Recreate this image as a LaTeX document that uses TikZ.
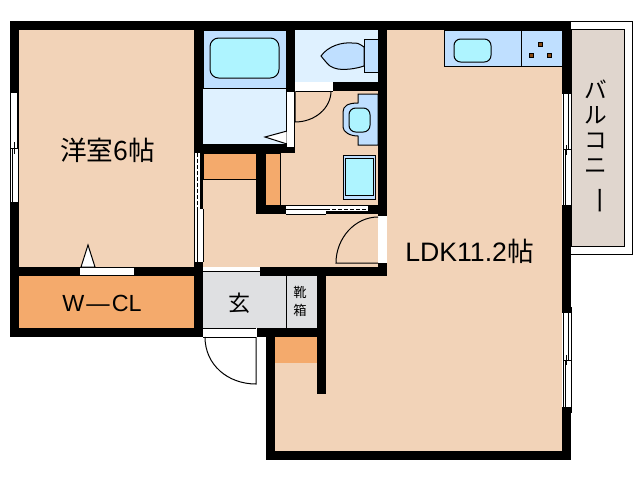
\documentclass[tikz,border=0pt]{standalone}
\usepackage{fontspec}
\setmainfont{Liberation Sans}
\newfontfamily\jpfont{Noto Sans CJK JP}
\definecolor{floorc}{HTML}{F2D3B8}
\definecolor{closetc}{HTML}{F4AA6C}
\definecolor{tubc}{HTML}{AEF4FF}
\definecolor{fixc}{HTML}{BFDFFF}
\definecolor{washc}{HTML}{DFF1FF}
\definecolor{genkanc}{HTML}{DFE0E2}
\definecolor{balc}{HTML}{E0D6CE}
\definecolor{burnc}{HTML}{8B4A12}
\tikzset{
  wall/.style={fill=black,draw=none},
  thinline/.style={draw=black,line width=.75pt},
  fix/.style={thinline,fill=fixc},
  tub/.style={thinline,fill=tubc},
  glass/.style={fill=white,draw=none},
  doorleaf/.style={thinline,fill=white},
  burner/.style={fill=burnc,draw=black,line width=.4pt},
  label/.style={inner sep=0pt,text=black}
}
\begin{document}
\begin{tikzpicture}[x=.75pt,y=-.75pt]
\useasboundingbox (0,0) rectangle (638,480);
\fill[white] (0,0) rectangle (638,480);
% balcony
\draw[thinline] (571,21) -- (632,21) -- (632,254) -- (571,254);
\draw[thinline,fill=balc] (571,29) -- (624,29) -- (624,246) -- (571,246) -- cycle;
% floors
\fill[floorc] (19,30) rectangle (194,267);
\fill[floorc] (203,153) rectangle (378,267);
\fill[floorc] (295,91) rectangle (378,205);
\fill[floorc] (387,30) rectangle (562,451);
\fill[floorc] (326,267) rectangle (387,451);
\fill[floorc] (275,337) rectangle (326,451);
% closets
\fill[closetc] (19,276) rectangle (194,328);
\draw[thinline,fill=closetc] (203,179) -- (203,153) -- (256,153) -- (256,179) -- cycle;
\draw[thinline,fill=closetc] (265,153) -- (280,153) -- (280,205) -- (265,205) -- cycle;
\fill[closetc] (275,337) rectangle (317,363);
% genkan
\fill[genkanc] (203,271) rectangle (317,328);
\draw[thinline] (203,271) -- (262,271);
\draw[thinline] (286,276) -- (286,328);
% bath
\draw[thinline,fill=fixc] (203,30) rectangle (286,88);
\fill[washc] (203,88.5) rectangle (286,144);
\draw[tub,rounded corners=6.5pt] (210,38) rectangle (279,78);
% toilet
\fill[washc] (295,30) rectangle (378,82);
\draw[thinline,fill=fixc] (364,39) rectangle (378,72);
\draw[thinline,fill=fixc] (321,56) .. controls (328,46) and (342,42) .. (352,43) .. controls (358,43) .. (364,47) -- (364,66) .. controls (355,69) and (345,70) .. (338,69) .. controls (330,67) .. (321,56) -- cycle;
% washbasin
\draw[fix] (378,94) -- (358,94) -- (358,103) .. controls (348,103) and (343,106) .. (343,112) -- (343,127) .. controls (343,132) and (350,136) .. (358,136) -- (358,145) -- (378,145) -- cycle;
\draw[tub,rounded corners=5pt] (349,108) rectangle (370,132);
% washer pan
\draw[fix] (343,155) rectangle (375,199);
\draw[tub] (345.5,158) rectangle (373,195);
% kitchen
\draw[fix] (444,30) rectangle (562,66);
\draw[thinline] (521,30) -- (521,66);
\draw[tub,rounded corners=5pt] (454,39) rectangle (491,62);
\draw[burner] (538,42) rectangle (542,46);
\draw[burner] (529,53) rectangle (533,57);
\draw[burner] (547,53) rectangle (551,57);
% walls
\fill[wall] (10,21) rectangle (571,30);
\fill[wall] (10,21) rectangle (19,93);
\fill[wall] (10,202) rectangle (19,337);
\fill[wall] (10,267) rectangle (203,276);
\fill[wall] (10,328) rectangle (203,337);
\fill[wall] (194,21) rectangle (203,153);
\fill[wall] (194,262) rectangle (203,337);
\fill[wall] (194,144) rectangle (295,153);
\fill[wall] (286,21) rectangle (295,153);
\fill[wall] (333,82) rectangle (378,91);
\fill[wall] (378,21) rectangle (387,215);
\fill[wall] (378,263) rectangle (387,276);
\fill[wall] (256,153) rectangle (265,214);
\fill[wall] (256,205) rectangle (286,214);
\fill[wall] (368,205) rectangle (378,214);
\fill[wall] (260,267) rectangle (387,276);
\fill[wall] (317,267) rectangle (326,394);
\fill[wall] (257,328) rectangle (326,337);
\fill[wall] (266,337) rectangle (275,460);
\fill[wall] (266,451) rectangle (571,460);
\fill[wall] (562,21) rectangle (571,94);
\fill[wall] (562,205) rectangle (571,313);
\fill[wall] (562,407) rectangle (571,460);
\fill[wall] (562,87) rectangle (572,94);
\fill[wall] (562,205) rectangle (572,213);
\fill[wall] (562,307) rectangle (572,313);
\fill[wall] (562,407) rectangle (572,413);
% shower door and triangle
\draw[doorleaf] (265,137) -- (287,131) -- (287,144) -- cycle;
\fill[white] (287,92) rectangle (294,147);
\fill[white] (296,83) rectangle (333,90.5);
\draw[thinline] (296,91) -- (333,91);
\draw[thinline] (295,91) -- (295,122) .. controls (315,122) and (331,108) .. (331,91);
% bedroom closet door
\fill[white] (79,268) rectangle (134,275);
\draw[doorleaf] (88,245) -- (81,267) -- (95,267) -- cycle;
\draw[thinline] (79,267) -- (79,276);
% sliding door: bedroom to hall
\fill[white] (194,153) rectangle (203,262);
\fill[black] (200,153) rectangle (203,209);
\draw[thinline] (194.5,153) -- (194.5,262);
\draw[thinline] (197.5,209) -- (197.5,262);
\draw[thinline] (203,209) -- (203,262);
\draw[thinline,dash pattern=on 3pt off 1.5pt] (197.5,153) -- (197.5,209);
% sliding door: cupboard
\fill[white] (286,205) rectangle (368,214);
\fill[black] (326,210.5) rectangle (368,214);
\draw[thinline] (286,205.5) -- (368,205.5);
\draw[thinline] (286,209) -- (326,209);
\draw[thinline] (286,214) -- (326,214);
\draw[thinline,dash pattern=on 3pt off 1.5pt] (326,209) -- (368,209);
% LDK door
\fill[white] (378,215) rectangle (387,263);
\draw[thinline] (378,215) -- (387,215);
\draw[thinline] (378,217) .. controls (355,217) and (336,238) .. (336,263) -- (378,263);
% entrance door
\fill[white] (203,329) rectangle (256,336);
\draw[thinline] (203,328) -- (256,328);
\draw[thinline] (203,337) -- (256,337);
\draw[thinline] (205,337) .. controls (205,365) and (228,384) .. (256,384) -- (256,337);
% windows
\fill[white] (10,93) rectangle (19,202);
\draw[thinline] (10.5,93) -- (10.5,202);
\draw[thinline] (18.5,93) -- (18.5,202);
\draw[thinline] (17,93) -- (17,148);
\draw[thinline] (12,148) -- (12,202);
\draw[thinline] (10,148) -- (19,148);
\draw[thinline] (14,142) -- (14,154);
\fill[white] (563,94) rectangle (572,205);
\draw[thinline] (563,94) -- (563,205);
\draw[thinline] (571.5,94) -- (571.5,205);
\draw[thinline] (568,94) -- (568,149);
\draw[thinline] (565,149) -- (565,205);
\draw[thinline] (563,149) -- (572,149);
\draw[thinline] (566.5,145) -- (566.5,155);
\fill[white] (563,313) rectangle (572,407);
\draw[thinline] (563,313) -- (563,407);
\draw[thinline] (571.5,313) -- (571.5,407);
\draw[thinline] (568,313) -- (568,360);
\draw[thinline] (565,360) -- (565,407);
\draw[thinline] (563,360) -- (572,360);
\draw[thinline] (566,355) -- (566,365);
% texts
\node[label,anchor=west,font=\fontsize{20pt}{22pt}\selectfont] (bed) at (60,150) {\jpfont 洋室6帖};
\node[label,anchor=west,font=\fontsize{20pt}{22pt}\selectfont] (ldk) at (405,251) {LDK11.2{\jpfont 帖}};
\node[label,font=\fontsize{17.5pt}{20pt}\selectfont] (wcl) at (102,303) {W\kern1.5pt—\kern1.5pt CL};
\node[label,font=\fontsize{16.5pt}{20pt}\selectfont\jpfont] (gen) at (239,303) {玄};
\node[label,align=center,font=\fontsize{10pt}{13.5pt}\selectfont\jpfont] (shoe) at (300,301) {靴\\箱};
\node[label,align=center,anchor=north,font=\fontsize{17pt}{18.75pt}\selectfont\jpfont] (bal) at (596,80) {バ\\ル\\コ\\ニ\\\raisebox{9pt}{\rotatebox{-90}{\scalebox{1.25}[1]{ー}}}};
\end{tikzpicture}
\end{document}
